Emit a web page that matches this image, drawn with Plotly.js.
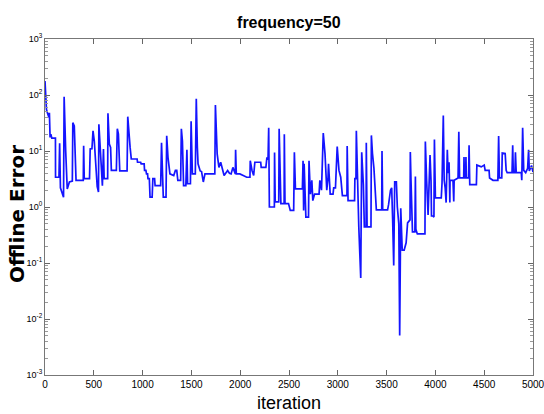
<!DOCTYPE html>
<html>
<head>
<meta charset="utf-8">
<script src="https://cdn.plot.ly/plotly-3.0.1.min.js"></script>
<style>html,body{margin:0;padding:0;background:#fff;}#chart{width:544px;height:414px;}</style>
</head>
<body>
<div id="chart"></div>
<script>
// Breakpoints of the offline-error curve (iteration, error)
const iteration = [
0,15,30,40,45,52,60,70,107,108,143,150,158,175,190,196,205,212,228,250,280,285,300,310,318,392,396,402,456,463,481,492,505,535,548,552,563,570,588,599,606,642,645,659,672,680,731,741,752,766,841,848,862,872,884,944,948,980,985,1016,1020,1034,1040,1051,1055,1069,1076,1098,1105,1123,1128,1185,1194,1212,1240,1247,1260,1280,1319,1336,1350,1361,1390,1397,1408,1420,1443,1454,1461,1490,1497,1510,1540,1550,1561,1568,1590,1604,1622,1639,1740,1746,1764,1782,1800,1835,1871,1890,1907,1925,1950,1953,1960,1996,2031,2067,2100,2103,2121,2138,2150,2210,2215,2263,2274,2285,2292,2299,2350,2352,2359,2395,2399,2410,2417,2450,2452,2459,2495,2513,2548,2555,2566,2637,2644,2650,2655,2673,2700,2705,2719,2734,2744,2762,2808,2816,2833,2851,2869,2887,2900,2905,2922,2951,2958,2976,2994,3012,3030,3047,3094,3096,3105,3172,3175,3186,3190,3215,3235,3245,3262,3272,3290,3292,3300,3340,3344,3355,3370,3395,3450,3453,3460,3510,3520,3540,3552,3562,3573,3583,3600,3610,3625,3634,3645,3660,3680,3700,3715,3740,3743,3750,3765,3790,3795,3800,3815,3893,3897,3910,3925,3945,3955,3960,3975,3985,3990,4000,4060,4068,4081,4090,4100,4110,4122,4130,4140,4148,4150,4180,4188,4192,4232,4240,4248,4290,4293,4297,4310,4313,4317,4340,4345,4352,4420,4425,4470,4500,4510,4550,4555,4590,4640,4648,4656,4680,4685,4715,4725,4735,4785,4792,4798,4815,4820,4828,4880,4885,4894,4905,4925,4945,4955,4962,4985,5000
];
const offlineError = [
177,55,45,40,48,17.5,20,17,17,3.4,3.4,13.7,2.2,1.85,1.5,93,18.7,10,2.1,2.8,2.9,32,28,11.6,3.0,3.0,12.4,3.2,3.2,10.9,11,23,15,2.3,1.85,30,11.6,9.5,2.4,10.9,3.2,3.2,47,13.3,11.6,4.5,4.5,25,20,4.4,4.4,41,15,11.6,7.2,7.2,6.3,6.3,5.9,5.9,4.5,4.5,3.9,3.9,3.2,3.2,1.5,1.5,3.2,3.2,2.4,2.4,14,1.5,1.5,18.7,7.7,3.9,3.65,4.5,4.5,3.0,3.0,25,15,2.4,2.4,10.5,2.6,2.6,34,3.9,3.9,86,11.6,5.9,4.4,4.3,2.8,3.9,3.9,66,8.9,5.1,6.3,3.65,4.5,4.0,3.9,5.1,3.9,10.5,3.9,3.9,3.65,3.4,3.4,6.7,4.5,3.65,6.3,6.3,5.1,5.1,7.7,7.0,26,1.0,1.0,9.4,1.23,1.23,25,5,1.15,1.15,20,1.15,1.15,0.87,0.87,9.5,2.1,2.1,6.7,0.87,5.9,0.66,0.66,6.7,1.7,3.0,1.3,1.7,1.7,3.0,2.0,21,8.9,2.0,3.4,5.9,1.7,1.7,2.2,2.2,12,4.5,3.4,1.6,1.6,12.3,1.3,1.3,3.2,3.2,23,0.45,0.054,9.5,2.5,0.44,0.44,14,0.44,0.44,19,9.1,5,0.89,0.89,10,0.89,0.89,1.1,2.0,2.2,0.59,0.09,2.8,2.8,1.0,0.5,0.0051,0.95,0.17,0.17,0.23,0.52,0.59,9.6,3,0.36,0.36,3.5,0.4,0.33,0.33,14.8,3,0.72,8.5,3,0.69,0.69,0.66,16,1.45,1.45,2.7,43,3.0,2.2,1.2,10.5,4,6.3,1.2,3.0,3.0,1.25,3.0,3.3,22,3.3,3.3,7.8,3.3,3.3,7.8,3.3,3.3,12.6,2.5,2.5,5.6,5.2,5.6,4.5,4.5,3.3,3.0,3.0,18.6,3.3,3.3,9.2,9.0,4.5,4.1,4.1,12.6,4.1,4.1,9.5,4.1,4.1,3.0,26,4.5,4.1,4.9,10.5,4.4,5.5,4.2
];
const xTicks = [0,500,1000,1500,2000,2500,3000,3500,4000,4500,5000];
const yTicks = [0.001,0.01,0.1,1,10,100,1000];
const yTickText = ["10<sup>-3</sup>","10<sup>-2</sup>","10<sup>-1</sup>","10<sup>0</sup>","10<sup>1</sup>","10<sup>2</sup>","10<sup>3</sup>"];
const titleText = "frequency=50";
const xLabel = "iteration";
const yLabel = "Offline Error";

const narrow = "'Liberation Sans Narrow', 'Liberation Sans', Arial, sans-serif";
const trace = {
  x: iteration, y: offlineError, type: 'scatter', mode: 'lines',
  line: {color: '#1414ff', width: 1.7}, hoverinfo: 'skip', cliponaxis: false
};
const layout = {
  width: 544, height: 414,
  margin: {l: 45, r: 11, t: 39, b: 39},
  paper_bgcolor: '#fff', plot_bgcolor: '#fff',
  showlegend: false,
  title: {text: titleText, x: 0.531, xanchor: 'center', y: 0.946, yanchor: 'middle',
          font: {family: narrow, size: 16, color: '#000', weight: 'bold'}},
  xaxis: {
    range: [0, 5000], tickmode: 'array', tickvals: xTicks, ticktext: xTicks.map(String),
    ticks: 'inside', ticklen: 5, tickcolor: '#666', ticklabeloverflow: 'allow',
    showline: true, linecolor: '#777', linewidth: 1, mirror: 'allticks', showgrid: false, zeroline: false,
    tickfont: {family: narrow, size: 10, color: '#000'},
    title: {text: xLabel, font: {family: narrow, size: 18, color: '#000'}, standoff: 7}
  },
  yaxis: {
    type: 'log', range: [-3, 3], tickmode: 'array', tickvals: yTicks, ticktext: yTickText,
    ticks: 'inside', ticklen: 5, tickcolor: '#666',
    showline: true, linecolor: '#777', linewidth: 1, mirror: 'allticks', showgrid: false, zeroline: false,
    minor: {ticks: 'inside', ticklen: 3, tickcolor: '#999', dtick: 'D1', showgrid: false},
    tickfont: {family: narrow, size: 9, color: '#000'}
  },
  annotations: [{
    text: yLabel, xref: 'paper', yref: 'paper', x: -0.057, y: 0.48,
    xanchor: 'center', yanchor: 'middle', textangle: -90, showarrow: false,
    font: {family: "'DejaVu Sans', Verdana, sans-serif", size: 20, color: '#000', weight: 'bold'}
  }]
};
Plotly.newPlot('chart', [trace], layout, {staticPlot: true, displayModeBar: false});
</script>
</body>
</html>
